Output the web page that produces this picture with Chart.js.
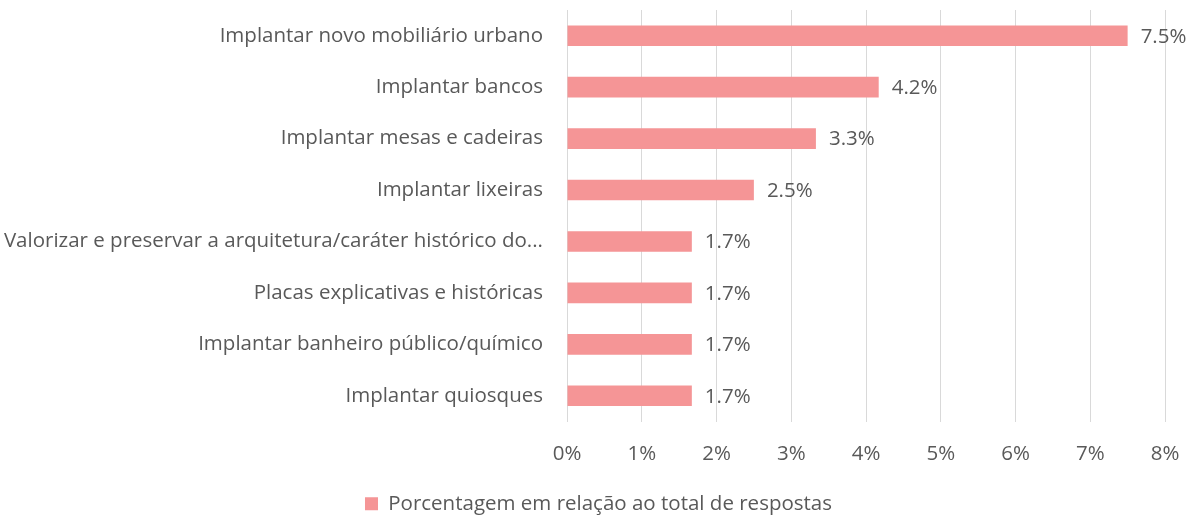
<!DOCTYPE html>
<html>
<head>
<meta charset="utf-8">
<script src="https://cdn.jsdelivr.net/npm/chart.js@4/dist/chart.umd.min.js"></script>
<style>
  html, body { margin: 0; padding: 0; background: #fff; }
  #wrap { width: 1196px; height: 516px; }
</style>
</head>
<body>
<div id="wrap"><canvas id="chart"></canvas></div>
<script>
// categories and values (percent of total answers)
var categories = [
    'Implantar novo mobiliário urbano',
    'Implantar bancos',
    'Implantar mesas e cadeiras',
    'Implantar lixeiras',
    'Valorizar e preservar a arquitetura/caráter histórico do...',
    'Placas explicativas e históricas',
    'Implantar banheiro público/químico',
    'Implantar quiosques'
];
var values = [7.5, 4.17, 3.33, 2.5, 1.67, 1.67, 1.67, 1.67];
var seriesName = 'Porcentagem em relação ao total de respostas';
var barColor = '#F59596';
var textColor = '#595959';
var fontSize = 20.5;

// draw the value labels at the end of the bars
var valueLabels = {
    id: 'valueLabels',
    afterDatasetsDraw: function(chart) {
        var ctx = chart.ctx;
        var meta = chart.getDatasetMeta(0);
        ctx.save();
        ctx.font = fontSize + 'px "Open Sans"';
        ctx.fillStyle = textColor;
        ctx.textBaseline = 'middle';
        ctx.textAlign = 'left';
        meta.data.forEach(function(bar, i) {
            ctx.fillText(values[i].toFixed(1) + '%', bar.x + 13, bar.y + 1);
        });
        ctx.restore();
    }
};

// centre the legend on the whole canvas rather than the padded area
var legendShift = {
    id: 'legendShift',
    afterLayout: function(chart) {
        if (chart.legend) {
            chart.legend.left += 16;
            chart.legend.right += 16;
        }
    }
};

Chart.defaults.font.family = '"Open Sans"';
Chart.defaults.font.size = fontSize;
Chart.defaults.color = textColor;

var ctx = document.getElementById('chart').getContext('2d');
new Chart(ctx, {
    type: 'bar',
    data: {
        labels: categories,
        datasets: [{
            label: seriesName,
            data: values,
            backgroundColor: barColor,
            borderWidth: 0,
            categoryPercentage: 1.0,
            barPercentage: 0.4
        }]
    },
    options: {
        indexAxis: 'y',
        responsive: true,
        maintainAspectRatio: false,
        animation: false,
        layout: { padding: { top: 10, right: 31, left: 0, bottom: -8 } },
        scales: {
            x: {
                min: 0,
                max: 8,
                ticks: {
                    stepSize: 1,
                    padding: 20,
                    callback: function(v) { return v + '%'; }
                },
                grid: { color: '#D9D9D9', drawTicks: false, lineWidth: 1 },
                border: { display: false },
                afterFit: function(scale) {
                    scale.height = 68;
                    scale.paddingLeft = 0;
                    scale.paddingRight = 0;
                }
            },
            y: {
                ticks: { padding: 24 },
                grid: { display: false, drawTicks: false },
                border: { display: false },
                afterFit: function(scale) {
                    scale.width = 567;
                    scale.paddingTop = 0;
                    scale.paddingBottom = 0;
                }
            }
        },
        plugins: {
            legend: {
                position: 'bottom',
                labels: { boxWidth: 13, boxHeight: 13, padding: 4, color: textColor }
            },
            tooltip: { enabled: false }
        }
    },
    plugins: [valueLabels, legendShift]
});
</script>
</body>
</html>
